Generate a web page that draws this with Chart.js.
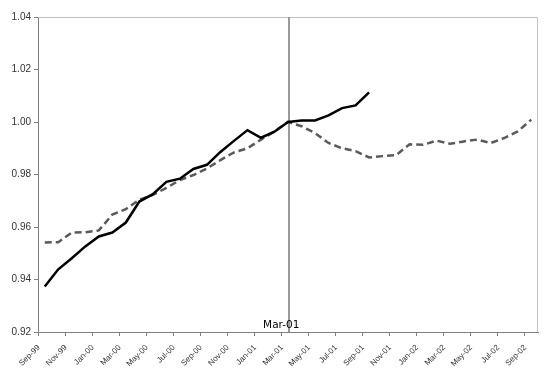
<!DOCTYPE html>
<html>
<head>
<meta charset="utf-8">
<script src="https://cdn.jsdelivr.net/npm/chart.js@4"></script>
<style>
  html, body { margin: 0; padding: 0; background: #fff; }
  #wrap { width: 547px; height: 374px; }
</style>
</head>
<body>
<div id="wrap"><canvas id="myChart"></canvas></div>
<script>
var months = ['Sep-99','Oct-99','Nov-99','Dec-99','Jan-00','Feb-00','Mar-00','Apr-00','May-00','Jun-00','Jul-00','Aug-00',
  'Sep-00','Oct-00','Nov-00','Dec-00','Jan-01','Feb-01','Mar-01','Apr-01','May-01','Jun-01','Jul-01','Aug-01',
  'Sep-01','Oct-01','Nov-01','Dec-01','Jan-02','Feb-02','Mar-02','Apr-02','May-02','Jun-02','Jul-02','Aug-02','Sep-02'];

var actual = [0.9373, 0.9439, 0.9481, 0.9526, 0.9564, 0.9579, 0.9617, 0.9697, 0.9725, 0.9772, 0.9784, 0.9821,
  0.9837, 0.9886, 0.9928, 0.9969, 0.9940, 0.9963, 1.0000, 1.0006, 1.0006, 1.0025, 1.0053, 1.0063, 1.0113];

var compare = [0.9541, 0.9542, 0.9579, 0.9580, 0.9587, 0.9647, 0.9668, 0.9704, 0.9722, 0.9749, 0.9779, 0.9798,
  0.9823, 0.9855, 0.9884, 0.9900, 0.9933, 0.9964, 1.0000, 0.9984, 0.9958, 0.9920, 0.9900, 0.9889, 0.9865, 0.9870,
  0.9874, 0.9915, 0.9913, 0.9929, 0.9917, 0.9926, 0.9933, 0.9920, 0.9939, 0.9964, 1.0009];

var yMin = 0.92;
var yMax = 1.04;
var yStep = 0.02;
var markerMonth = 'Mar-01';

// vertical marker line + label, plus the light plot border
var markerPlugin = {
  id: 'marker',
  beforeDatasetsDraw: function(chart) {
    var ctx = chart.ctx;
    var area = chart.chartArea;
    var x = chart.scales.x.getPixelForValue(months.indexOf(markerMonth));
    ctx.save();
    ctx.strokeStyle = '#c0c0c0';
    ctx.lineWidth = 1;
    ctx.beginPath();
    ctx.moveTo(area.left, area.top + 0.5);
    ctx.lineTo(area.right - 0.5, area.top + 0.5);
    ctx.lineTo(area.right - 0.5, area.bottom);
    ctx.stroke();
    ctx.strokeStyle = '#999999';
    ctx.lineWidth = 2;
    ctx.beginPath();
    ctx.moveTo(x + 1, area.top);
    ctx.lineTo(x + 1, area.bottom);
    ctx.stroke();
    ctx.restore();
  },
  afterDraw: function(chart) {
    var ctx = chart.ctx;
    var sx = chart.scales.x;
    var half = (sx.getPixelForValue(1) - sx.getPixelForValue(0)) / 2;
    var x = sx.getPixelForValue(months.indexOf(markerMonth)) - half;
    ctx.save();
    ctx.fillStyle = '#000';
    ctx.font = '10.5px "DejaVu Sans"';
    ctx.textAlign = 'center';
    ctx.textBaseline = 'middle';
    ctx.fillText(markerMonth, x, chart.chartArea.bottom - 7);
    ctx.restore();
  }
};

var ctx = document.getElementById('myChart').getContext('2d');
var chart = new Chart(ctx, {
  type: 'line',
  data: {
    labels: months,
    datasets: [{
      data: actual,
      borderColor: '#000000',
      borderWidth: 2.5,
      pointRadius: 0,
      tension: 0,
      fill: false
    }, {
      data: compare,
      borderColor: '#5a5a5a',
      borderWidth: 2.5,
      borderDash: [7, 4],
      pointRadius: 0,
      tension: 0,
      fill: false
    }]
  },
  options: {
    responsive: true,
    maintainAspectRatio: false,
    animation: false,
    layout: { padding: { top: 17, right: 9, left: 0, bottom: 0 } },
    plugins: {
      legend: { display: false },
      tooltip: { enabled: false }
    },
    scales: {
      x: {
        type: 'category',
        offset: true,
        afterFit: function(scale) { scale.height = 42; },
        grid: {
          offset: true,
          drawOnChartArea: false,
          drawTicks: true,
          tickLength: 4,
          color: function(c) { return c.index % 2 === 0 ? '#808080' : 'rgba(0,0,0,0)'; }
        },
        border: { color: '#808080', width: 1 },
        ticks: {
          autoSkip: false,
          maxRotation: 45,
          minRotation: 45,
          labelOffset: -6,
          padding: 7,
          color: '#333333',
          font: { family: 'Liberation Sans', size: 8 },
          callback: function(value, index) { return index % 2 === 0 ? months[index] : ''; }
        }
      },
      y: {
        min: yMin,
        max: yMax,
        afterFit: function(scale) { scale.width = 38; },
        grid: {
          drawOnChartArea: false,
          drawTicks: true,
          tickLength: 4,
          color: '#808080'
        },
        border: { color: '#808080', width: 1 },
        ticks: {
          stepSize: yStep,
          padding: 3,
          color: '#333333',
          font: { family: 'Liberation Sans', size: 10 },
          callback: function(v) { return v.toFixed(2); }
        }
      }
    }
  },
  plugins: [markerPlugin]
});
</script>
</body>
</html>
